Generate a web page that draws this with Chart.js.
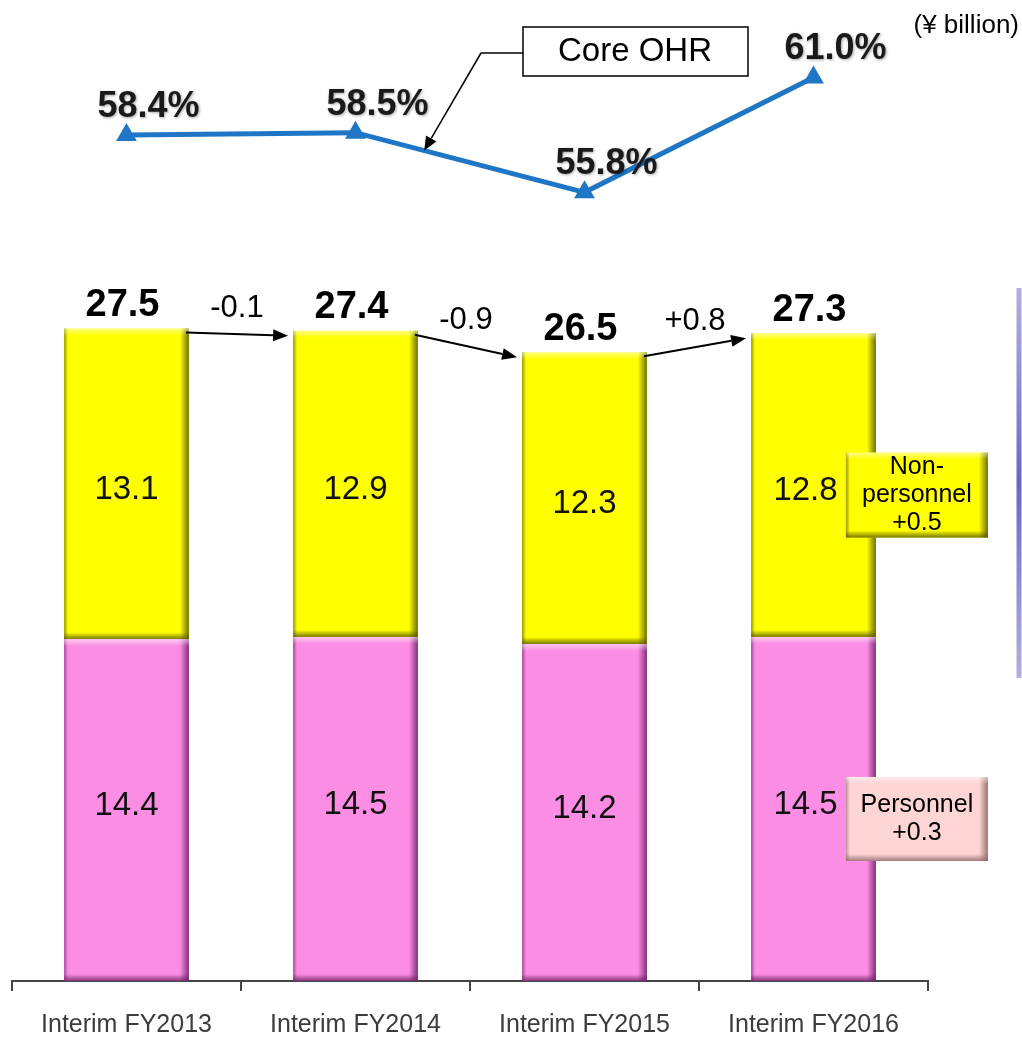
<!DOCTYPE html>
<html>
<head>
<meta charset="utf-8">
<script src="https://cdn.jsdelivr.net/npm/chart.js@4.4.1/dist/chart.umd.min.js"></script>
<style>
  html, body { margin: 0; padding: 0; background: #fff; }
  canvas { display: block; }
</style>
</head>
<body>
<canvas id="costChart" width="1022" height="1037"></canvas>
<script>
const categories = ["Interim FY2013", "Interim FY2014", "Interim FY2015", "Interim FY2016"];
const personnel = [14.4, 14.5, 14.2, 14.5];
const nonPersonnel = [13.1, 12.9, 12.3, 12.8];
const totals = [27.5, 27.4, 26.5, 27.3];
const changes = ["-0.1", "-0.9", "+0.8"];
const coreOHR = [58.4, 58.5, 55.8, 61.0];
const coreOHRLabels = ["58.4%", "58.5%", "55.8%", "61.0%"];
const calloutNonPersonnel = ["Non-", "personnel", "+0.5"];
const calloutPersonnel = ["Personnel", "+0.3"];

const FONT = '"Liberation Sans", Arial, sans-serif';
const YELLOW = "#ffff00";
const PINK = "#fb8ee4";
const BLUE = "#1f76c6";

function shadeRect(ctx, x0, y0, x1, y1, from, to, rx, ry, rw, rh) {
  const g = ctx.createLinearGradient(x0, y0, x1, y1);
  g.addColorStop(0, from);
  g.addColorStop(1, to);
  ctx.fillStyle = g;
  ctx.fillRect(rx, ry, rw, rh);
}

// fake the bevelled look of the original bars
function bevel(ctx, l, t, r, b, rgb) {
  const c = (a) => `rgba(${rgb},${a})`;
  shadeRect(ctx, r - 9, 0, r, 0, c(0), c(0.85), r - 9, t, 9, b - t);
  shadeRect(ctx, l, 0, l + 4, 0, c(0.6), c(0), l, t, 4, b - t);
  shadeRect(ctx, 0, b - 7, 0, b, c(0), c(0.8), l, b - 7, r - l, 7);
  shadeRect(ctx, 0, t, 0, t + 7, "rgba(255,255,255,0.5)", "rgba(255,255,255,0)", l, t, r - l, 7);
}

function arrow(ctx, x1, y1, x2, y2, width, head, half) {
  const ang = Math.atan2(y2 - y1, x2 - x1);
  const bx = x2 - Math.cos(ang) * head, by = y2 - Math.sin(ang) * head;
  ctx.strokeStyle = "#000";
  ctx.fillStyle = "#000";
  ctx.lineWidth = width;
  ctx.beginPath(); ctx.moveTo(x1, y1); ctx.lineTo(bx, by); ctx.stroke();
  ctx.beginPath();
  ctx.moveTo(x2, y2);
  ctx.lineTo(bx + Math.sin(ang) * half, by - Math.cos(ang) * half);
  ctx.lineTo(bx - Math.sin(ang) * half, by + Math.cos(ang) * half);
  ctx.closePath();
  ctx.fill();
}

function callout(ctx, left, cy, w, h, fill, rgb, lines) {
  const top = cy - h / 2;
  ctx.fillStyle = fill;
  ctx.fillRect(left, top, w, h);
  bevel(ctx, left, top, left + w, top + h, rgb);
  ctx.fillStyle = "#000";
  ctx.font = `25px ${FONT}`;
  const step = 28;
  lines.forEach((txt, i) => {
    ctx.fillText(txt, left + w / 2, cy + (i - (lines.length - 1) / 2) * step);
  });
}

const decorations = {
  id: "decorations",
  afterDatasetDraw(chart, args) {
    if (args.meta.type !== "bar") return;
    const ctx = chart.ctx;
    const rgb = args.index === 0 ? "110,30,100" : "85,85,0";
    ctx.save();
    args.meta.data.forEach((el) => {
      const p = el.getProps(["x", "y", "base", "width"], true);
      bevel(ctx, p.x - p.width / 2, Math.min(p.y, p.base), p.x + p.width / 2, Math.max(p.y, p.base), rgb);
    });
    ctx.restore();
  },
  afterDraw(chart) {
    const ctx = chart.ctx;
    const pink = chart.getDatasetMeta(0).data;
    const yellow = chart.getDatasetMeta(1).data;
    const line = chart.getDatasetMeta(2).data;
    const last = yellow.length - 1;
    ctx.save();
    ctx.textAlign = "center";
    ctx.textBaseline = "middle";

    // values inside the segments
    ctx.fillStyle = "#111";
    ctx.font = `33px ${FONT}`;
    yellow.forEach((el, i) => {
      const shift = i === last ? -8 : 0;
      ctx.fillText(nonPersonnel[i].toFixed(1), el.x + shift, (el.y + el.base) / 2 + 6);
      ctx.fillText(personnel[i].toFixed(1), pink[i].x + shift, (pink[i].y + pink[i].base) / 2 - 4);
    });

    // totals on top
    ctx.fillStyle = "#000";
    ctx.font = `bold 38px ${FONT}`;
    yellow.forEach((el, i) => ctx.fillText(totals[i].toFixed(1), el.x - 4, el.y - 23));

    // change arrows between bars
    changes.forEach((txt, i) => {
      const a = yellow[i], b = yellow[i + 1];
      const x1 = a.x + a.width / 2 - 3, y1 = a.y + 4;
      const x2 = b.x - b.width / 2 - 5, y2 = b.y + 5;
      arrow(ctx, x1, y1, x2, y2, 2, 15, 6);
      ctx.font = `31px ${FONT}`;
      ctx.fillText(txt, (x1 + x2) / 2, (y1 + y2) / 2 - 26);
    });

    // core OHR labels
    ctx.font = `bold 36px ${FONT}`;
    ctx.fillStyle = "#1a1a1a";
    ctx.shadowColor = "rgba(0,0,0,0.35)";
    ctx.shadowBlur = 3;
    ctx.shadowOffsetX = 1;
    ctx.shadowOffsetY = 1;
    line.forEach((pt, i) => ctx.fillText(coreOHRLabels[i], pt.x + 22, pt.y - 28));
    ctx.shadowColor = "transparent";

    // side callouts
    const boxL = yellow[last].x + yellow[last].width / 2 - 30;
    callout(ctx, boxL, (yellow[last].y + yellow[last].base) / 2 + 10, 142, 85, YELLOW, "85,85,0", calloutNonPersonnel);
    callout(ctx, boxL, (pink[last].y + pink[last].base) / 2 + 10, 142, 84, "#fdd5d5", "140,100,100", calloutPersonnel);

    // "Core OHR" label box
    const p1 = line[1], p2 = line[2];
    const tipX = p1.x + (p2.x - p1.x) * 0.3, tipY = p1.y + (p2.y - p1.y) * 0.3;
    ctx.fillStyle = "#fff";
    ctx.strokeStyle = "#000";
    ctx.lineWidth = 1.5;
    ctx.fillRect(523, 27, 225, 49);
    ctx.strokeRect(523, 27, 225, 49);
    ctx.fillStyle = "#000";
    ctx.font = `33px ${FONT}`;
    ctx.fillText("Core OHR", 635, 52);
    ctx.beginPath(); ctx.moveTo(523, 53); ctx.lineTo(481, 53); ctx.stroke();
    arrow(ctx, 481, 53, tipX, tipY, 1.5, 14, 6);

    // unit
    ctx.textAlign = "right";
    ctx.font = `26px ${FONT}`;
    ctx.fillText("(\u00a5 billion)", 1019, 26);

    // edge of the neighbouring panel
    const g = ctx.createLinearGradient(0, 285, 0, 680);
    g.addColorStop(0, "rgba(130,122,205,0.6)");
    g.addColorStop(0.5, "rgba(110,100,190,1)");
    g.addColorStop(1, "rgba(130,122,205,0.6)");
    ctx.strokeStyle = g;
    ctx.lineWidth = 5;
    ctx.beginPath(); ctx.moveTo(1019, 288); ctx.lineTo(1019, 678); ctx.stroke();
    ctx.restore();
  },
};

new Chart(document.getElementById("costChart"), {
  data: {
    labels: categories,
    datasets: [
      { type: "bar", label: "Personnel", data: personnel, backgroundColor: PINK, yAxisID: "y", order: 2 },
      { type: "bar", label: "Non-personnel", data: nonPersonnel, backgroundColor: YELLOW, yAxisID: "y", order: 2 },
      {
        type: "line",
        label: "Core OHR",
        data: coreOHR,
        yAxisID: "y2",
        borderColor: BLUE,
        borderWidth: 5,
        pointStyle: "triangle",
        pointRadius: 12,
        pointBackgroundColor: BLUE,
        pointBorderColor: BLUE,
        pointBorderWidth: 0,
        tension: 0,
        order: 1,
      },
    ],
  },
  options: {
    responsive: false,
    animation: false,
    layout: { padding: { left: 12, right: 94, top: 20, bottom: 0 } },
    datasets: { bar: { categoryPercentage: 1, barPercentage: 0.545 } },
    plugins: { legend: { display: false }, tooltip: { enabled: false } },
    scales: {
      x: {
        stacked: true,
        grid: { offset: true, drawOnChartArea: false, color: "#444", lineWidth: 2, tickLength: 10 },
        border: { color: "#444", width: 2 },
        ticks: { color: "#3c3c3c", font: { family: FONT, size: 25 }, padding: 19 },
        afterFit: (axis) => { axis.height = 56; },
      },
      y: { stacked: true, display: false, min: 0, max: 40.5 },
      y2: { display: false, min: 20.1, max: 63.6 },
    },
  },
  plugins: [decorations],
});
</script>
</body>
</html>
